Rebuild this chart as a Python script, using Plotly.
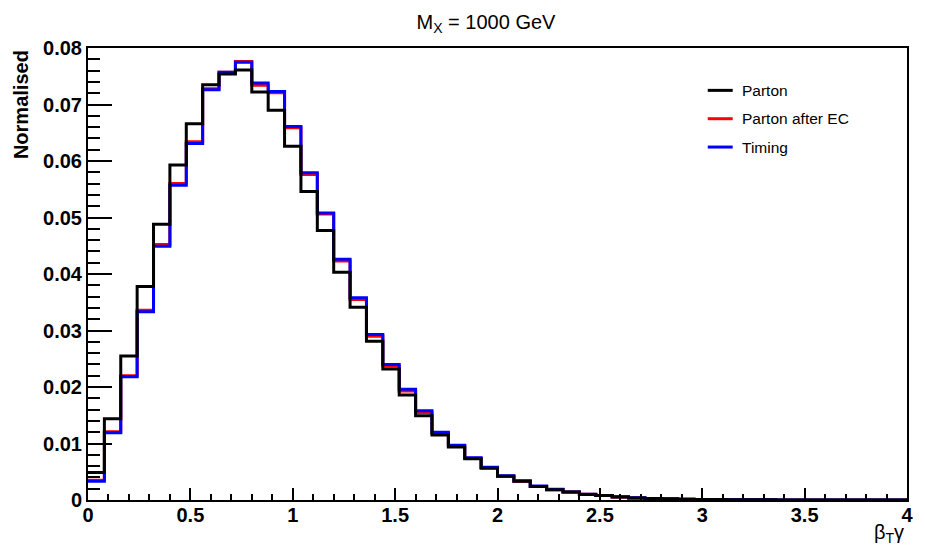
import numpy as np
import plotly.graph_objects as go

# Bin settings
bin_width = 0.08
n_bins = 50

# Histogram contents
parton = [0.00486, 0.01436, 0.0255, 0.0378, 0.0488, 0.0593, 0.0666, 0.0735, 0.0754, 0.0761,
          0.0722, 0.0690, 0.0626, 0.0546, 0.0477, 0.0403, 0.0341, 0.0281, 0.0232, 0.0186,
          0.0149, 0.0115, 0.0094, 0.0073, 0.0056, 0.0042, 0.0033, 0.0024, 0.0018, 0.0014,
          0.00096, 0.00078, 0.00053, 0.00035, 0.00026, 0.00019, 0.00014, 0.00010, 0.00007, 0.00005,
          0.00004, 0.00003, 0.00002, 0.00002, 0.00001, 0.00001, 0.00001, 0.0, 0.0, 0.0]
parton_ec = [0.0035, 0.0121, 0.0220, 0.0336, 0.0452, 0.0560, 0.0634, 0.0728, 0.0757, 0.0776,
             0.0734, 0.0721, 0.0659, 0.0576, 0.0506, 0.0423, 0.0355, 0.0290, 0.0237, 0.0193,
             0.0155, 0.0118, 0.0096, 0.0074, 0.0057, 0.0042, 0.0033, 0.0024, 0.0018, 0.0014,
             0.0010, 0.0008, 0.00055, 0.00037, 0.00027, 0.00020, 0.00015, 0.00011, 0.00008, 0.00006,
             0.00004, 0.00003, 0.00002, 0.00002, 0.00001, 0.00001, 0.00001, 0.0, 0.0, 0.0]
timing = [0.0033, 0.0119, 0.0218, 0.0333, 0.0449, 0.0557, 0.0631, 0.0726, 0.0757, 0.0775,
          0.0738, 0.0723, 0.0661, 0.0579, 0.0508, 0.0426, 0.0358, 0.0293, 0.0240, 0.0196,
          0.0158, 0.0120, 0.0097, 0.0075, 0.0058, 0.0043, 0.0034, 0.0025, 0.0019, 0.0014,
          0.0010, 0.0008, 0.00056, 0.00038, 0.00028, 0.00021, 0.00015, 0.00011, 0.00008, 0.00006,
          0.00004, 0.00003, 0.00002, 0.00002, 0.00001, 0.00001, 0.00001, 0.0, 0.0, 0.0]

series_names = ["Parton", "Parton after EC", "Timing"]
series_colors = ["#000000", "#ff0000", "#0000ff"]

edges = np.arange(n_bins + 1) * bin_width

FONT = "Liberation Sans, Arial, Helvetica, sans-serif"

# The page body has an 8px margin, so the figure is drawn 8px smaller and
# all screen pixel positions are shifted by 8.
OFF = 8
W, H = 925 - OFF, 552 - OFF
# plot area in screen pixels: x 87.5..907.5, y 48.4..499.7
L, R, T, B = 87.5 - OFF, 925 - 907.5, 48.4 - OFF, 552 - 499.7
pw, ph = W - L - R, H - T - B


def px_x(px):
    return (px - OFF - L) / pw


def px_y(py):
    return (H - B - (py - OFF)) / ph


fig = go.Figure()
data = {"Parton": parton, "Parton after EC": parton_ec, "Timing": timing}
colors = dict(zip(series_names, series_colors))
# draw order: red, blue, black on top
for name in ["Parton after EC", "Timing", "Parton"]:
    vals = data[name]
    fig.add_trace(go.Scatter(
        x=list(edges),
        y=list(vals) + [vals[-1]],
        mode="lines",
        line=dict(shape="hv", color=colors[name], width=3),
        name=name,
        showlegend=False,
        hoverinfo="skip",
    ))

fig.update_layout(
    width=W, height=H,
    margin=dict(l=L, r=R, t=T, b=B),
    paper_bgcolor="white", plot_bgcolor="white",
    font=dict(family=FONT, color="black"),
    title=dict(text="M<sub>X</sub> = 1000 GeV", x=(486 - OFF) / W, xref="container", xanchor="center",
               y=1 - (22 - OFF) / H, yref="container", yanchor="middle",
               font=dict(family=FONT, size=20, color="black")),
)

fig.update_xaxes(
    range=[0, 4], showgrid=False, zeroline=False,
    showline=True, linecolor="black", linewidth=2, mirror=True,
    ticks="inside", ticklen=12, tickwidth=1.5, tickcolor="black", dtick=0.5, tick0=0,
    minor=dict(ticks="inside", ticklen=6, tickwidth=1.5, tickcolor="black", dtick=0.1, showgrid=False),
    tickfont=dict(family=FONT, size=20, color="black", weight="bold"),
    ticklabelstandoff=-4,
)
fig.update_yaxes(
    range=[0, 0.08], showgrid=False, zeroline=False,
    showline=True, linecolor="black", linewidth=2, mirror=True,
    ticks="inside", ticklen=24, tickwidth=1.5, tickcolor="black", dtick=0.01, tick0=0,
    minor=dict(ticks="inside", ticklen=12, tickwidth=1.5, tickcolor="black", dtick=0.002, showgrid=False),
    tickfont=dict(family=FONT, size=20, color="black", weight="bold"),
)

annotations = [
    dict(text="<b>Normalised</b>", textangle=-90, xref="paper", yref="paper",
         x=px_x(20), y=1.0, xanchor="center", yanchor="top", showarrow=False,
         font=dict(family=FONT, size=20, color="black")),
    dict(text="β<sub>T</sub>γ", xref="paper", yref="paper",
         x=px_x(906), y=px_y(519), xanchor="right", yanchor="top", showarrow=False,
         font=dict(family=FONT, size=20, color="black")),
]
shapes = []
legend_rows = [90.7, 119, 147.3]
for name, color, ry in zip(series_names, series_colors, legend_rows):
    shapes.append(dict(type="line", xref="paper", yref="paper",
                       x0=px_x(708), x1=px_x(733), y0=px_y(ry), y1=px_y(ry),
                       line=dict(color=color, width=3)))
    annotations.append(dict(text=name, xref="paper", yref="paper",
                            x=px_x(740), y=px_y(ry), xanchor="left", yanchor="middle",
                            showarrow=False, font=dict(family=FONT, size=15.5, color="black")))

fig.update_layout(annotations=annotations, shapes=shapes)

fig.write_html("out.html")
